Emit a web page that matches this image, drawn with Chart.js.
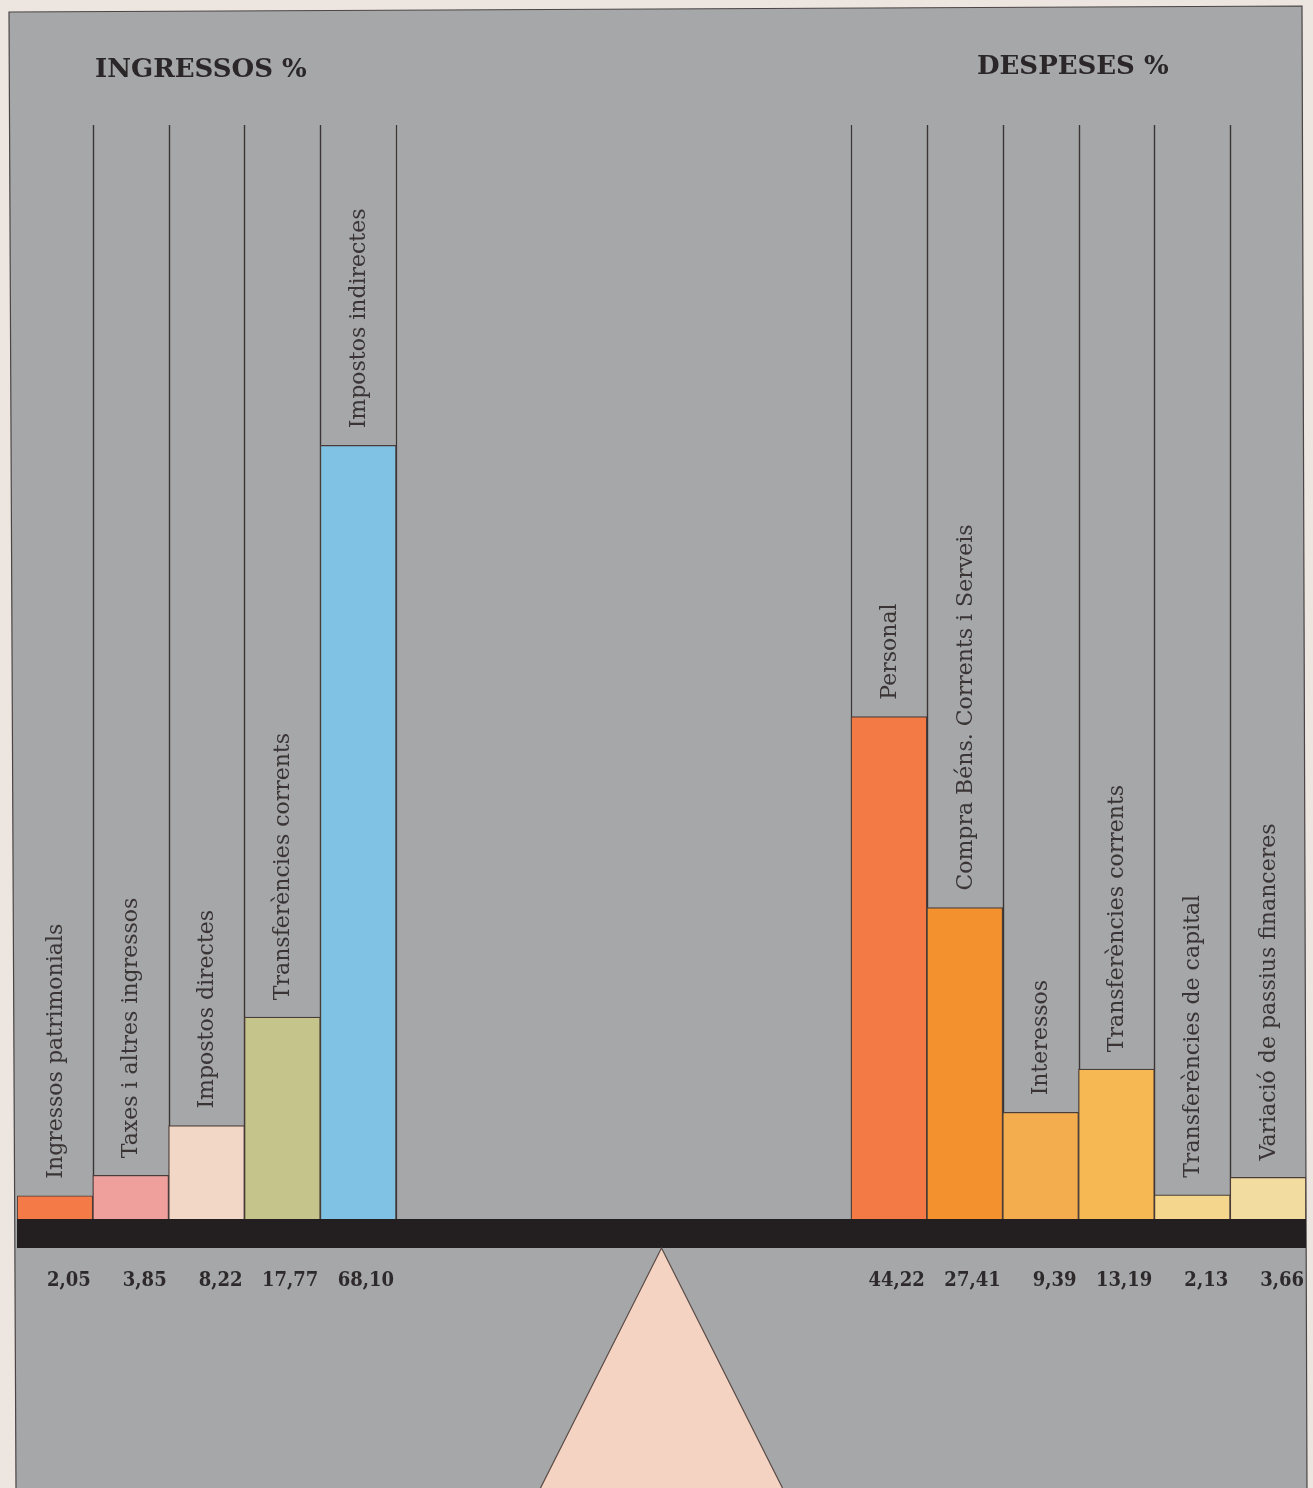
<!DOCTYPE html>
<html>
<head>
<meta charset="utf-8">
<script src="https://cdn.jsdelivr.net/npm/chart.js@4.4.1/dist/chart.umd.min.js"></script>
<style>
  html, body { margin: 0; padding: 0; background: #ede6e0; }
  #wrap { width: 1313px; height: 1488px; position: relative; }
</style>
</head>
<body>
<div id="wrap"><canvas id="balance"></canvas></div>
<script>
// Pressupost: ingressos i despeses (%)
const groupTitles = ['INGRESSOS %', 'DESPESES %'];

const incomeCategories = [
    'Ingressos patrimonials',
    'Taxes i altres ingressos',
    'Impostos directes',
    'Transferències corrents',
    'Impostos indirectes'
];
const incomeValues = [2.05, 3.85, 8.22, 17.77, 68.10];

const expenseCategories = [
    'Personal',
    'Compra Béns. Corrents i Serveis',
    'Interessos',
    'Transferències corrents',
    'Transferències de capital',
    'Variació de passius financeres'
];
const expenseValues = [44.22, 27.41, 9.39, 13.19, 2.13, 3.66];

// empty slots between the two groups (the middle of the balance)
const gapSlots = 6;

const incomeColors = ['#f47b48', '#ef9f9c', '#f2d6c6', '#c5c58b', '#80c2e3'];
const expenseColors = ['#f47a45', '#f4912f', '#f3ad4e', '#f6b852', '#f4d68c', '#f3dca0'];

// build the series for the chart
const gapLabels = [];
const gapValues = [];
const gapColors = [];
for (let i = 0; i < gapSlots; i++) {
    gapLabels.push('');
    gapValues.push(null);
    gapColors.push('rgba(0,0,0,0)');
}
const allLabels = incomeCategories.concat(gapLabels, expenseCategories);
const allValues = incomeValues.concat(gapValues, expenseValues);
const allColors = incomeColors.concat(gapColors, expenseColors);

const INK = '#3b3435';
const GREY = '#a5a7a8';
const SERIF = '"DejaVu Serif", "Liberation Serif", serif';
const SERIF_NARROW = '"DejaVu Serif Condensed", "DejaVu Serif", serif';

function fmt(v) {
    return v.toFixed(2).replace('.', ',');
}

const balancePlugin = {
    id: 'balance',
    beforeDraw(chart) {
        const ctx = chart.ctx;
        ctx.save();
        ctx.fillStyle = '#ede6e0';
        ctx.fillRect(0, 0, chart.width, chart.height);
        // grey board (photo is slightly rotated)
        ctx.beginPath();
        ctx.moveTo(9, 12);
        ctx.lineTo(1302, 6);
        ctx.lineTo(1307, 1490);
        ctx.lineTo(16, 1490);
        ctx.closePath();
        ctx.fillStyle = GREY;
        ctx.fill();
        ctx.strokeStyle = '#4b4546';
        ctx.lineWidth = 1.2;
        ctx.stroke();
        ctx.restore();
    },
    beforeDatasetsDraw(chart) {
        const ctx = chart.ctx;
        const area = chart.chartArea;
        const meta = chart.getDatasetMeta(0);
        ctx.save();
        ctx.strokeStyle = INK;
        ctx.lineWidth = 1.2;
        meta.data.forEach(function (bar, i) {
            if (allValues[i] === null) return;
            const half = bar.width / 2;
            [bar.x - half, bar.x + half].forEach(function (x) {
                if (x < area.left + 3 || x > area.right - 3) return;
                ctx.beginPath();
                ctx.moveTo(Math.round(x) + 0.5, area.top);
                ctx.lineTo(Math.round(x) + 0.5, area.bottom);
                ctx.stroke();
            });
        });
        ctx.restore();
    },
    afterDatasetsDraw(chart) {
        const ctx = chart.ctx;
        const area = chart.chartArea;
        const meta = chart.getDatasetMeta(0);
        const beamH = 29;
        ctx.save();

        // rotated category labels above each bar
        ctx.fillStyle = '#3a3435';
        ctx.font = '22px ' + SERIF;
        ctx.textAlign = 'left';
        ctx.textBaseline = 'middle';
        meta.data.forEach(function (bar, i) {
            if (allValues[i] === null) return;
            ctx.save();
            ctx.translate(bar.x + 1, bar.y - 17);
            ctx.rotate(-Math.PI / 2);
            ctx.fillText(allLabels[i], 0, 0);
            ctx.restore();
        });

        // beam
        ctx.fillStyle = '#231f20';
        ctx.fillRect(area.left, area.bottom, area.right - area.left, beamH);

        // fulcrum
        const cx = (area.left + area.right) / 2;
        const apexY = area.bottom + beamH;
        ctx.beginPath();
        ctx.moveTo(cx, apexY);
        ctx.lineTo(cx + 122, chart.height + 2);
        ctx.lineTo(cx - 122, chart.height + 2);
        ctx.closePath();
        ctx.fillStyle = '#f5d3c2';
        ctx.fill();
        ctx.strokeStyle = '#5a4b47';
        ctx.lineWidth = 1.2;
        ctx.stroke();

        // values under the beam
        ctx.fillStyle = '#2e2a2b';
        ctx.font = 'bold 20px ' + SERIF_NARROW;
        ctx.textAlign = 'right';
        ctx.textBaseline = 'alphabetic';
        meta.data.forEach(function (bar, i) {
            if (allValues[i] === null) return;
            ctx.fillText(fmt(allValues[i]), bar.x + bar.width / 2 - 2, apexY + 38);
        });

        // group titles
        ctx.fillStyle = '#2b2627';
        ctx.font = 'bold 26px ' + SERIF;
        ctx.textAlign = 'left';
        ctx.fillText(groupTitles[0], 95, 77);
        ctx.fillText(groupTitles[1], 977, 74);
        ctx.restore();
    }
};

new Chart(document.getElementById('balance'), {
    type: 'bar',
    data: {
        labels: allLabels,
        datasets: [{
            data: allValues,
            backgroundColor: allColors,
            borderColor: '#4a3c38',
            borderWidth: 1.2,
            barPercentage: 1,
            categoryPercentage: 1
        }]
    },
    options: {
        responsive: true,
        maintainAspectRatio: false,
        animation: false,
        layout: {
            padding: {left: 17, right: 7, top: 125, bottom: 269}
        },
        plugins: {
            legend: {display: false},
            tooltip: {enabled: false}
        },
        scales: {
            x: {display: false},
            y: {display: false, min: 0, max: 96.3}
        }
    },
    plugins: [balancePlugin]
});
</script>
</body>
</html>
